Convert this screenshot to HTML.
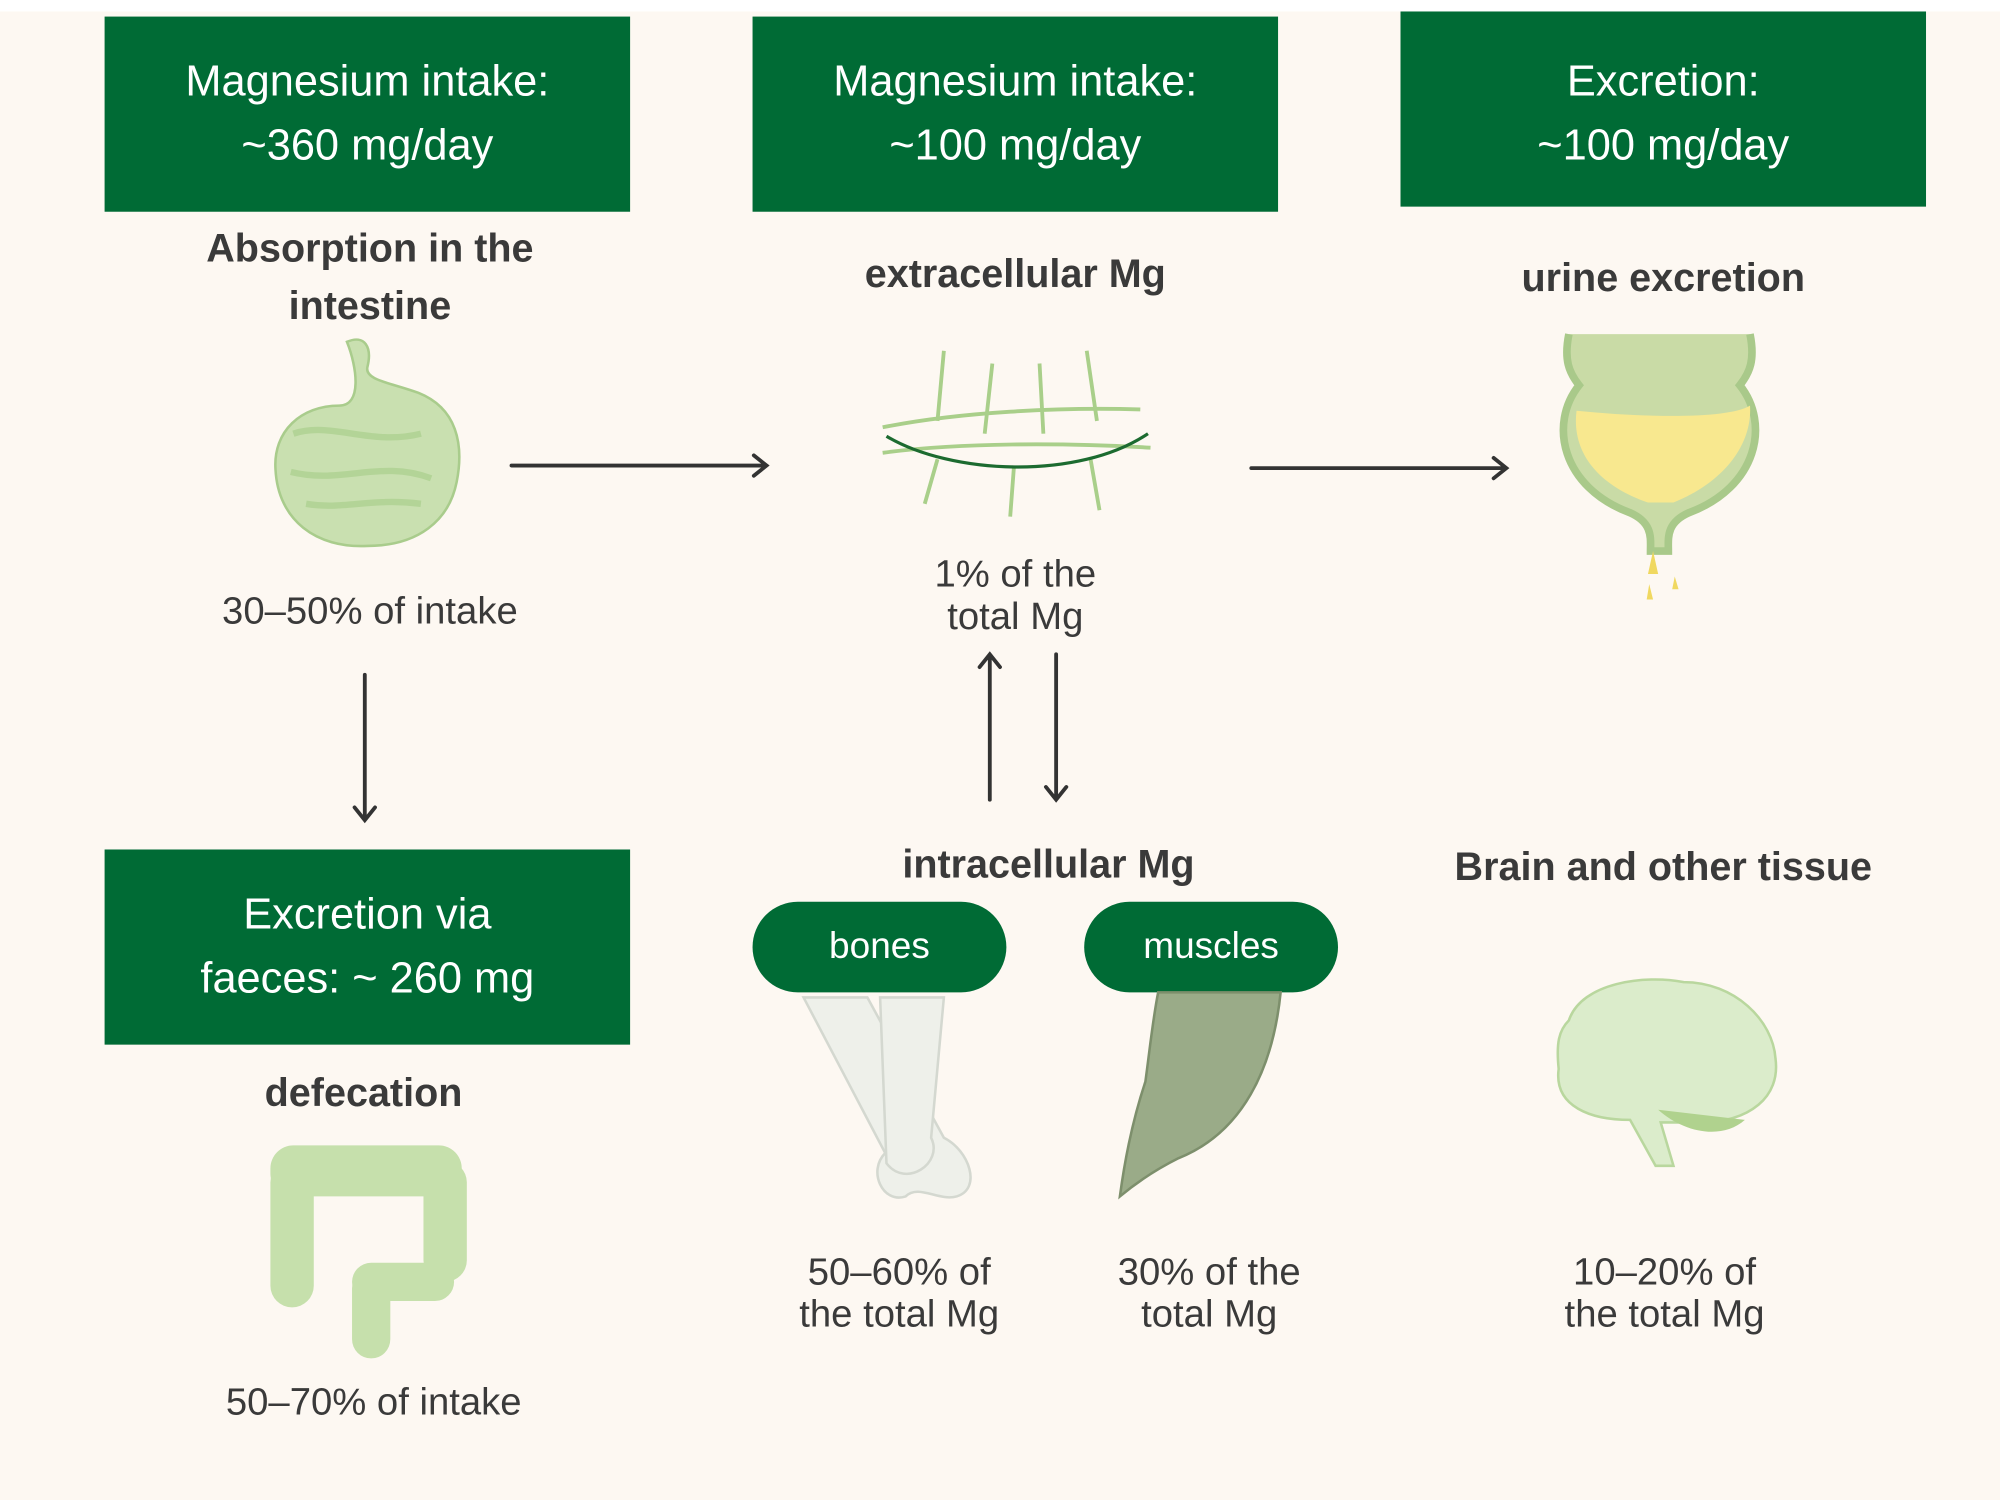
<!DOCTYPE html>
<html><head><meta charset="utf-8"><style>
html,body{margin:0;padding:0;width:2000px;height:1500px;overflow:hidden;background:#fdf8f2}
#w{position:absolute;left:0;top:0;width:1568px;height:1176px;transform:scale(1.27551);transform-origin:0 0;font-family:"Liberation Sans",sans-serif;color:#3a3a3a}
.top{position:absolute;left:0;top:0;width:1568px;height:9px;background:#fff}
.box{position:absolute;background:#006b35;color:#fff;font-size:34px;text-align:center;line-height:50px;box-sizing:border-box}
.t{position:absolute;text-align:center;white-space:nowrap;transform:translateX(-50%)}
.b{font-weight:bold;font-size:31px;line-height:45px}
.r{font-size:30px;line-height:33px}
.pill{position:absolute;background:#006b35;color:#fff;font-size:29px;text-align:center;border-radius:36px;height:71px;line-height:71px;width:199px}
svg{position:absolute;left:0;top:0}
</style></head><body><div id="w">
<div class="top"></div>
<div class="box" style="left:82px;top:13px;width:412px;height:153px;padding-top:26px">Magnesium intake:<br>~360 mg/day</div>
<div class="box" style="left:590px;top:13px;width:412px;height:153px;padding-top:26px">Magnesium intake:<br>~100 mg/day</div>
<div class="box" style="left:1098px;top:9px;width:412px;height:153px;padding-top:30px">Excretion:<br>~100 mg/day</div>
<div class="box" style="left:82px;top:666px;width:412px;height:153px;padding-top:26px">Excretion via<br>faeces: ~ 260 mg</div>

<div class="t b" style="left:290px;top:172px">Absorption in the<br>intestine</div>
<div class="t b" style="left:796px;top:192px">extracellular Mg</div>
<div class="t b" style="left:1304px;top:195px">urine excretion</div>
<div class="t b" style="left:285px;top:834px">defecation</div>
<div class="t b" style="left:822px;top:655px">intracellular Mg</div>
<div class="t b" style="left:1304px;top:657px">Brain and other tissue</div>

<div class="t r" style="left:290px;top:463px">30–50% of intake</div>
<div class="t r" style="left:796px;top:434px">1% of the<br>total Mg</div>
<div class="t r" style="left:293px;top:1083px">50–70% of intake</div>
<div class="t r" style="left:705px;top:981px">50–60% of<br>the total Mg</div>
<div class="t r" style="left:948px;top:981px">30% of the<br>total Mg</div>
<div class="t r" style="left:1305px;top:981px">10–20% of<br>the total Mg</div>

<div class="pill" style="left:590px;top:707px">bones</div>
<div class="pill" style="left:850px;top:707px">muscles</div>

<svg width="1568" height="1176" viewBox="0 0 1568 1176">
<g stroke="#333" stroke-width="3" fill="none" stroke-linecap="round">
<path d="M401 365H600M591 357L601 365L591 373"/>
<path d="M981 367H1180M1171 359L1181 367L1171 375"/>
<path d="M286 529V642M278 633L286 643L294 633"/>
<path d="M776 627V514M768 523L776 513L784 523"/>
<path d="M828 513V626M820 617L828 627L836 617"/>
</g>
<g fill="#c9e0b0" stroke="#a9cc8c" stroke-width="2">
<path d="M272 268c14-6 20 4 16 20c-2 10 18 12 40 20c30 12 36 40 30 70c-6 30-30 50-70 50c-40 2-70-20-72-60c-2-30 20-50 50-50c18 0 14-30 6-50z"/>
</g>
<g fill="none" stroke="#b3d497" stroke-width="5"><path d="M230 340c30-10 60 10 100 0M228 370c40 10 70-10 110 5M240 395c30 5 50-5 90 0"/></g>
<g stroke="#a9cf8a" stroke-width="3" fill="none">
<path d="M692 335c60-12 140-16 202-14M692 355c60-8 140-8 210-4"/>
<path d="M740 275L735 330M778 285L772 340M815 285L818 340M852 275L860 330M735 360L725 395M795 365L792 405M855 360L862 400"/>
</g>
<path d="M695 342c50 30 150 35 205-2" stroke="#1c6b30" stroke-width="2.5" fill="none"/>
<path d="M1230 262c-4 20 0 30 8 40c-24 30-14 80 40 100c18 8 16 20 16 30h14c0-10-2-22 16-30c54-20 64-70 40-100c8-10 12-20 8-40" fill="#c9dba6" stroke="#a9c98a" stroke-width="6"/>
<path d="M1236 322c60 6 120 6 136-4c2 30-20 60-60 76h-20c-40-14-60-40-56-72z" fill="#f8e88f"/>
<path d="M1296 432l-4 18h8zM1293 458l-2 12h5zM1313 452l-2 10h5z" fill="#f0d860"/>
<g fill="#c6e0ac">
<rect x="212" y="898" width="150" height="40" rx="18"/>
<rect x="212" y="910" width="34" height="115" rx="17"/>
<rect x="332" y="910" width="34" height="95" rx="17"/>
<rect x="276" y="990" width="80" height="30" rx="15"/>
<rect x="276" y="995" width="30" height="70" rx="15"/>
</g>
<g fill="#eef0ea" stroke="#d4d8d0" stroke-width="2">
<path d="M630 782h50l60 110c20 10 30 40 10 46c-14 4-30-10-40 0c-18 6-30-20-16-34z"/>
<path d="M690 782h50l-10 110c10 20 -20 40 -35 20z"/>
</g>
<path d="M908 778h96c-6 60-30 110-80 130c-20 10-34 20-46 30c4-30 10-60 20-90c4-30 6-50 10-70z" fill="#9aab88" stroke="#7d8f6c" stroke-width="2"/>
<path d="M1230 800c10-30 60-36 90-30c40 0 70 30 72 60c4 30-20 50-60 50c-10 0-30 0-30 0l10 34h-14l-20-36c-30 0-60-10-56-40c-2-20 0-30 8-38z" fill="#dbeccb" stroke="#b9d79e" stroke-width="2"/>
<path d="M1300 870c20 18 50 24 68 8" fill="#b0d28e"/>
</svg>
</div></body></html>
